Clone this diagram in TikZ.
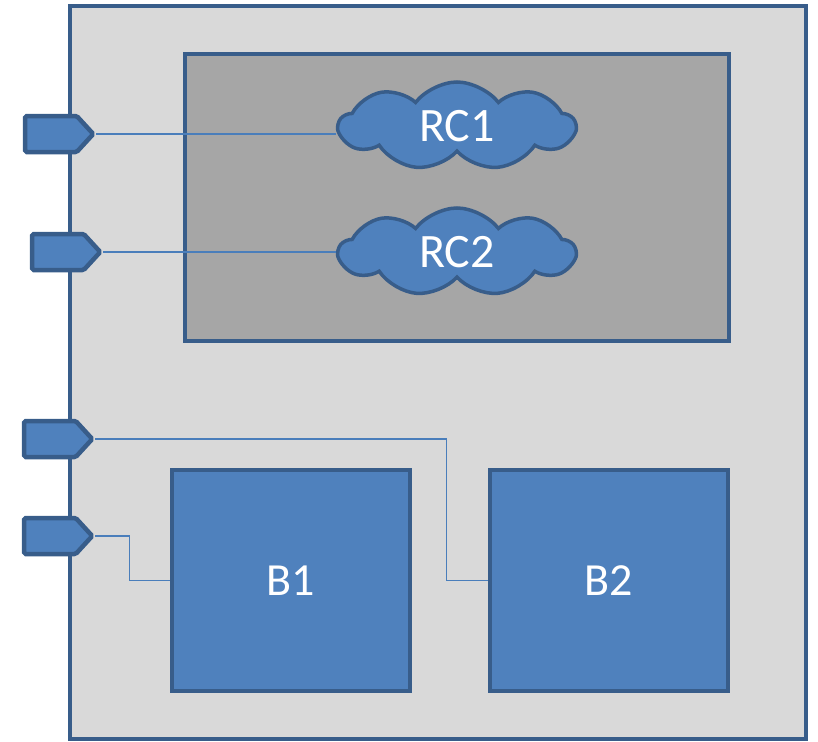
\documentclass[tikz,border=0pt]{standalone}
\usepackage{fontspec}
\setmainfont{Carlito}
\usetikzlibrary{shapes.symbols}

\definecolor{boxblue}{HTML}{4F81BD}
\definecolor{edgeblue}{HTML}{385D8A}
\definecolor{wireblue}{HTML}{4A7EBB}
\definecolor{lightgray}{HTML}{D9D9D9}
\definecolor{darkgray}{HTML}{A6A6A6}

\begin{document}
\begin{tikzpicture}[x=1pt,y=-1pt]

\tikzset{
  PortStyle/.style = { signal, signal to=east, signal pointer angle=95,
                       draw=edgeblue, fill=boxblue, line width=4.5pt,
                       rounded corners=1.5pt, inner sep=0pt,
                       minimum width=68pt, minimum height=36pt },
  CloudStyle/.style = { cloud, cloud puffs=9, cloud puff arc=105, aspect=2.8,
                        draw=edgeblue, fill=boxblue, line width=3.5pt,
                        minimum width=236pt, minimum height=88pt,
                        text=white, font=\fontsize{48}{52}\selectfont },
  BlockStyle/.style = { rectangle, draw=edgeblue, fill=boxblue, line width=4pt,
                        minimum width=238pt, minimum height=221pt,
                        text=white, font=\fontsize{46}{50}\selectfont },
  WireStyle/.style = { draw=wireblue, line width=1.5pt } }

  \useasboundingbox (0,0) rectangle (818,741);

  % enclosures
  \draw[draw=edgeblue, fill=lightgray, line width=4pt] (70,6) rectangle (806,739);
  \draw[draw=edgeblue, fill=darkgray, line width=4pt] (185,54) rectangle (729,341);

  \node[CloudStyle] (rc1) at (457,126) {RC1};
  \node[CloudStyle] (rc2) at (457,252) {RC2};

  \node[BlockStyle] (b1) at (291,580.5) {B1};
  \node[BlockStyle] (b2) at (609,580.5) {B2};

  \node[PortStyle] (p1) at (51,134) {};
  \node[PortStyle] (p2) at (58,252) {};
  \node[PortStyle] (p3) at (50,439) {};
  \node[PortStyle] (p4) at (50,536) {};

  % wires
  \draw[WireStyle] (p1.east) -- (p1.east -| rc1.west);
  \draw[WireStyle] (p2.east) -- (p2.east -| rc2.west);
  \draw[WireStyle] (p3.east) -- ++(351,0) |- (b2.west);
  \draw[WireStyle] (p4.east) -- ++(34,0) |- (b1.west);

\end{tikzpicture}
\end{document}
